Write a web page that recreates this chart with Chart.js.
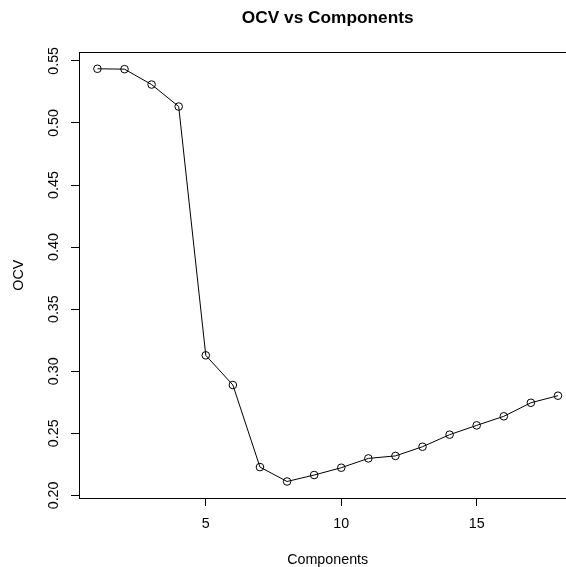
<!DOCTYPE html>
<html>
<head>
<meta charset="utf-8">
<script src="https://cdn.jsdelivr.net/npm/chart.js@4/dist/chart.umd.min.js"></script>
<style>
  html, body { margin: 0; padding: 0; background: #fff; overflow: hidden; width: 566px; height: 567px; }
  #wrap { position: absolute; left: 0; top: 0; width: 566px; height: 567px; overflow: hidden; }
  #c { display: block; }
</style>
</head>
<body>
<div id="wrap"><canvas id="c" width="600" height="567"></canvas></div>
<script>
// Number of components tried and the resulting OCV
const components = [1, 2, 3, 4, 5, 6, 7, 8, 9, 10, 11, 12, 13, 14, 15, 16, 17, 18];
const ocv = [0.5436, 0.5433, 0.5309, 0.5132, 0.3128, 0.2889, 0.2228, 0.2112, 0.2164,
             0.2223, 0.2298, 0.2318, 0.2392, 0.2489, 0.2564, 0.2637, 0.2746, 0.2803];

// Axis tick positions
const xTickValues = [5, 10, 15];
const yTickValues = [0.20, 0.25, 0.30, 0.35, 0.40, 0.45, 0.50, 0.55];

// Axis ranges padded by 4% on each side
function paddedRange(vals) {
  const lo = Math.min(...vals), hi = Math.max(...vals);
  const d = (hi - lo) * 0.04;
  return [lo - d, hi + d];
}
const [xMin, xMax] = paddedRange(components);
const [yMin, yMax] = paddedRange(ocv);

const FONT = '"Liberation Sans", Arial, Helvetica, sans-serif';
Chart.defaults.color = '#000';
Chart.defaults.font.family = FONT;

// Frame around the plotting region (its right side lies past the visible page)
const frame = {
  id: 'frame',
  afterDraw(chart) {
    const { ctx, chartArea: a } = chart;
    ctx.save();
    ctx.strokeStyle = '#000';
    ctx.lineWidth = 1;
    ctx.strokeRect(Math.round(a.left) + 0.5, Math.round(a.top) + 0.5,
                   Math.round(a.right - a.left), Math.round(a.bottom - a.top));
    ctx.restore();
  }
};

new Chart(document.getElementById('c'), {
  type: 'line',
  data: {
    datasets: [{
      data: components.map((c, i) => ({ x: c, y: ocv[i] })),
      borderColor: '#000',
      borderWidth: 1,
      tension: 0,
      fill: false,
      pointStyle: 'circle',
      pointRadius: 3.8,
      pointBorderWidth: 1,
      pointBorderColor: '#000',
      pointBackgroundColor: 'rgba(0,0,0,0)',
      clip: false
    }]
  },
  options: {
    responsive: false,
    animation: false,
    events: [],
    layout: { padding: { left: 0, right: 23.6, top: 0, bottom: 0 } },
    plugins: {
      legend: { display: false },
      tooltip: { enabled: false },
      title: {
        display: true,
        text: 'OCV vs Components',
        fullSize: false,
        color: '#000',
        font: { family: FONT, size: 17.28, weight: 'bold', lineHeight: 1 },
        padding: { top: 10, bottom: 25 }
      }
    },
    scales: {
      x: {
        type: 'linear',
        min: xMin,
        max: xMax,
        afterBuildTicks: s => { s.ticks = xTickValues.map(v => ({ value: v })); },
        afterFit: s => { s.height = 69; },
        grid: { drawOnChartArea: false, drawTicks: true, tickLength: 8, color: '#000', lineWidth: 1 },
        border: { display: true, color: '#000', width: 1 },
        ticks: {
          font: { family: FONT, size: 14.3 },
          color: '#000',
          padding: 9,
          maxRotation: 0,
          minRotation: 0,
          callback: v => String(v)
        },
        title: {
          display: true,
          text: 'Components',
          color: '#000',
          font: { family: FONT, size: 14.3, lineHeight: 1 },
          padding: { top: 0, bottom: 0 }
        }
      },
      y: {
        type: 'linear',
        min: yMin,
        max: yMax,
        afterBuildTicks: s => { s.ticks = yTickValues.map(v => ({ value: v })); },
        afterFit: s => { s.width = 79; },
        grid: { drawOnChartArea: false, drawTicks: true, tickLength: 8, color: '#000', lineWidth: 1 },
        border: { display: true, color: '#000', width: 1 },
        ticks: {
          font: { family: FONT, size: 14.3 },
          color: '#000',
          padding: 3,
          minRotation: 90,
          maxRotation: 90,
          crossAlign: 'center',
          callback: v => v.toFixed(2)
        },
        title: {
          display: true,
          text: 'OCV',
          color: '#000',
          font: { family: FONT, size: 14.3, lineHeight: 1.2 },
          padding: { top: 10, bottom: 0 }
        }
      }
    }
  },
  plugins: [frame]
});
</script>
</body>
</html>
